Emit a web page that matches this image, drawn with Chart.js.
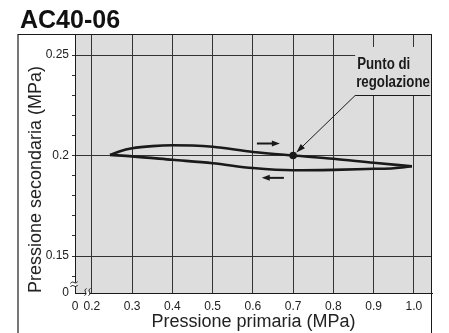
<!DOCTYPE html>
<html>
<head>
<meta charset="utf-8">
<script src="https://cdn.jsdelivr.net/npm/chart.js@4/dist/chart.umd.min.js"></script>
<style>
  html, body { margin: 0; padding: 0; background: #fff; }
  #wrap { width: 449px; height: 333px; }
</style>
</head>
<body>
<div id="wrap"><canvas id="chart" width="449" height="333"></canvas></div>
<script>
// Secondary pressure while primary pressure rises (upper branch), MPa
const risingPrimary   = [0.245, 0.27, 0.30, 0.35, 0.40, 0.45, 0.50, 0.60, 0.70, 0.80, 0.90, 0.995];
const risingSecondary = [0.2003, 0.2022, 0.2036, 0.2047, 0.2051, 0.2050, 0.2044, 0.2018, 0.2000, 0.1984, 0.1964, 0.1947];

// Secondary pressure while primary pressure falls (lower branch), MPa
const fallingPrimary   = [0.245, 0.30, 0.40, 0.50, 0.60, 0.70, 0.80, 0.90, 0.95, 0.995];
const fallingSecondary = [0.2003, 0.1996, 0.1979, 0.1962, 0.1938, 0.1927, 0.1929, 0.1934, 0.1937, 0.1947];

// Set point
const setPrimary = [0.70];
const setSecondary = [0.20];

// Axis ticks (both axes are broken between 0 and the first value)
const xTickValues = [0.2, 0.3, 0.4, 0.5, 0.6, 0.7, 0.8, 0.9, 1.0];
const xTickLabels = ['0.2', '0.3', '0.4', '0.5', '0.6', '0.7', '0.8', '0.9', '1.0'];
const yTickValues = [0.14, 0.15, 0.16, 0.17, 0.18, 0.19, 0.20, 0.21, 0.22, 0.23, 0.24, 0.25];
const yLabelValues = [0.15, 0.20, 0.25];
const yTickLabels  = ['0.15', '0.2', '0.25'];
const originLabel = '0';

// Visible window of each axis (the low end stands for the broken origin)
const xRange = [0.158, 1.045];
const yRange = [0.1316, 0.2605];

// Direction arrows and the set-point callout, in data units
const flowArrows = [
  { from: [0.610, 0.2060], to: [0.667, 0.2060] },
  { from: [0.677, 0.1889], to: [0.622, 0.1889] }
];
const calloutElbow = [0.854, 0.2303];
const calloutEndX = 1.041;
const calloutLines = ['Punto di', 'regolazione'];

const PLOT_BG = '#dddddd';
const INK = '#1a1a1a';
const GRID = '#333333';
const SANS = '"Liberation Sans", Arial, Helvetica, sans-serif';

const near = (a, b) => Math.abs(a - b) < 1e-6;

function arrowHead(ctx, x1, y1, x2, y2, len, half) {
  const a = Math.atan2(y2 - y1, x2 - x1);
  ctx.beginPath();
  ctx.moveTo(x2, y2);
  ctx.lineTo(x2 - len * Math.cos(a) + half * Math.sin(a), y2 - len * Math.sin(a) - half * Math.cos(a));
  ctx.lineTo(x2 - len * Math.cos(a) - half * Math.sin(a), y2 - len * Math.sin(a) + half * Math.cos(a));
  ctx.closePath();
  ctx.fill();
}

// condensed bold label: regular bold face squeezed horizontally
function narrowText(ctx, text, x, y, squeeze) {
  ctx.save();
  ctx.translate(x, y);
  ctx.scale(squeeze, 1);
  ctx.fillText(text, 0, 0);
  ctx.restore();
}

const decorations = {
  id: 'decorations',
  beforeDraw(chart) {
    const { ctx, chartArea: a } = chart;
    ctx.save();
    ctx.fillStyle = PLOT_BG;
    ctx.fillRect(a.left, a.top, a.right - a.left, a.bottom - a.top);
    ctx.restore();
  },
  afterDatasetsDraw(chart) {
    const { ctx, chartArea: a, scales: { x, y } } = chart;
    ctx.save();

    // outer frame
    ctx.strokeStyle = '#777';
    ctx.lineWidth = 2;
    ctx.beginPath();
    ctx.moveTo(a.left - 57, chart.height);
    ctx.lineTo(a.left - 57, a.top);
    ctx.stroke();
    ctx.strokeStyle = INK;
    ctx.lineWidth = 1;
    ctx.beginPath();
    ctx.moveTo(a.left - 57, a.top + 0.5);
    ctx.lineTo(a.right - 0.5, a.top + 0.5);
    ctx.lineTo(a.right - 0.5, chart.height);
    ctx.stroke();

    // flow direction arrows
    ctx.fillStyle = INK;
    ctx.strokeStyle = INK;
    ctx.lineWidth = 2;
    flowArrows.forEach(ar => {
      const x1 = x.getPixelForValue(ar.from[0]), y1 = y.getPixelForValue(ar.from[1]);
      const x2 = x.getPixelForValue(ar.to[0]),   y2 = y.getPixelForValue(ar.to[1]);
      const dir = Math.sign(x2 - x1);
      ctx.beginPath();
      ctx.moveTo(x1, y1);
      ctx.lineTo(x2 - dir * 5, y2);
      ctx.stroke();
      arrowHead(ctx, x1, y1, x2, y2, 8, 3);
    });

    // callout box background
    const ex = x.getPixelForValue(calloutElbow[0]);
    const ey = Math.round(y.getPixelForValue(calloutElbow[1])) + 0.5;
    ctx.fillStyle = PLOT_BG;
    ctx.fillRect(ex, a.top + 13, a.right - 1 - ex, ey - a.top - 13);

    // callout leader
    const px = x.getPixelForValue(setPrimary[0]), py = y.getPixelForValue(setSecondary[0]);
    const ang = Math.atan2(py - ey, px - ex);
    const tx = px - 4.5 * Math.cos(ang), ty = py - 4.5 * Math.sin(ang);
    ctx.strokeStyle = INK;
    ctx.fillStyle = INK;
    ctx.lineWidth = 1;
    ctx.beginPath();
    ctx.moveTo(x.getPixelForValue(calloutEndX), ey);
    ctx.lineTo(ex, ey);
    ctx.lineTo(tx - 6 * Math.cos(ang), ty - 6 * Math.sin(ang));
    ctx.stroke();
    arrowHead(ctx, ex, ey, tx, ty, 9, 3);

    // callout text
    ctx.font = 'bold 16px ' + SANS;
    ctx.textBaseline = 'alphabetic';
    ctx.textAlign = 'left';
    narrowText(ctx, calloutLines[0], ex + 2, ey - 27, 0.83);
    narrowText(ctx, calloutLines[1], ex + 1, ey - 8.5, 0.83);

    // axis break marks
    const squiggle = (cx, cy, w, h, vertical) => {
      ctx.beginPath();
      if (!vertical) {
        ctx.moveTo(cx - w / 2, cy + h / 2);
        ctx.bezierCurveTo(cx - w / 6, cy - h * 1.6, cx + w / 6, cy + h * 1.6, cx + w / 2, cy - h / 2);
      } else {
        ctx.moveTo(cx - h / 2, cy + w / 2);
        ctx.bezierCurveTo(cx + h * 1.6, cy + w / 6, cx - h * 1.6, cy - w / 6, cx + h / 2, cy - w / 2);
      }
      ctx.stroke();
    };
    const bl = a.left, bb = a.bottom;
    ctx.fillStyle = '#fff';
    ctx.fillRect(bl - 1.5, bb - 10.5, 3, 3.5);
    ctx.fillRect(bl + 11, bb - 1.5, 3.5, 3);
    ctx.fillStyle = PLOT_BG;
    ctx.fillRect(bl + 11, bb - 6, 3.5, 4.5);
    ctx.strokeStyle = INK;
    ctx.lineWidth = 1;
    squiggle(bl - 1, bb - 10.5, 7, 2, false);
    squiggle(bl - 1, bb - 7, 7, 2, false);
    squiggle(bl + 10.5, bb - 1, 7, 2, true);
    squiggle(bl + 14.5, bb - 1, 7, 2, true);

    ctx.restore();
  },
  afterDraw(chart) {
    const { ctx, chartArea: a } = chart;
    ctx.save();
    ctx.strokeStyle = INK;
    ctx.lineWidth = 1;
    ctx.beginPath();
    ctx.moveTo(a.left, a.top + 0.5);
    ctx.lineTo(a.right - 0.5, a.top + 0.5);
    ctx.lineTo(a.right - 0.5, a.bottom);
    ctx.stroke();
    ctx.restore();
  }
};

const toPoints = (xs, ys) => xs.map((v, i) => ({ x: v, y: ys[i] }));

new Chart(document.getElementById('chart'), {
  type: 'scatter',
  data: {
    datasets: [
      {
        data: toPoints(risingPrimary, risingSecondary),
        showLine: true, borderColor: INK, borderWidth: 2.6,
        pointRadius: 0, cubicInterpolationMode: 'monotone', borderJoinStyle: 'round'
      },
      {
        data: toPoints(fallingPrimary, fallingSecondary),
        showLine: true, borderColor: INK, borderWidth: 2.6,
        pointRadius: 0, cubicInterpolationMode: 'monotone', borderJoinStyle: 'round'
      },
      {
        data: toPoints(setPrimary, setSecondary),
        pointRadius: 3.8, pointBackgroundColor: INK, pointBorderWidth: 0
      }
    ]
  },
  options: {
    responsive: false,
    animation: false,
    devicePixelRatio: 1,
    layout: { padding: { left: 20, right: 17, top: 0, bottom: 0 } },
    plugins: {
      legend: { display: false },
      tooltip: { enabled: false },
      title: {
        display: true,
        text: 'AC40-06',
        align: 'start',
        color: '#111',
        font: { family: SANS, size: 25, weight: 'bold', lineHeight: 1 },
        padding: { top: 9, bottom: 0 }
      }
    },
    scales: {
      x: {
        type: 'linear',
        min: xRange[0], max: xRange[1],
        afterBuildTicks: s => { s.ticks = [xRange[0], ...xTickValues].map(v => ({ value: v })); },
        afterFit: s => { s.height = 40; },
        ticks: {
          autoSkip: false, maxRotation: 0, padding: 6, color: '#222',
          font: { family: SANS, size: 12 },
          callback: (v, i) => (i === 0 ? originLabel : xTickLabels[i - 1])
        },
        grid: {
          drawTicks: false,
          color: c => (c.index === 0 ? 'rgba(0,0,0,0)' : GRID),
          lineWidth: 1
        },
        border: { display: true, color: INK, width: 1 },
        title: {
          display: true,
          text: 'Pressione primaria (MPa)',
          color: '#222',
          font: { family: SANS, size: 18 },
          padding: { top: 1, bottom: 0 }
        }
      },
      y: {
        type: 'linear',
        min: yRange[0], max: yRange[1],
        afterBuildTicks: s => { s.ticks = [yRange[0], ...yTickValues].map(v => ({ value: v })); },
        afterFit: s => { s.width = 55; },
        ticks: {
          autoSkip: false, padding: 3, color: '#222',
          font: { family: SANS, size: 12 },
          callback: (v, i) => {
            if (i === 0) return originLabel;
            const k = yLabelValues.findIndex(t => near(t, v));
            return k >= 0 ? yTickLabels[k] : '';
          }
        },
        grid: {
          drawTicks: true,
          tickLength: 3,
          tickColor: c => (c.index === 0 ? 'rgba(0,0,0,0)' : GRID),
          color: c => (c.tick && yLabelValues.some(t => near(t, c.tick.value)) ? GRID : 'rgba(0,0,0,0)'),
          lineWidth: 1
        },
        border: { display: true, color: INK, width: 1 },
        title: {
          display: true,
          text: 'Pressione secondaria (MPa)',
          align: 'start',
          color: '#222',
          font: { family: SANS, size: 18 },
          padding: { top: 5, bottom: 0 }
        }
      }
    }
  },
  plugins: [decorations]
});
</script>
</body>
</html>
